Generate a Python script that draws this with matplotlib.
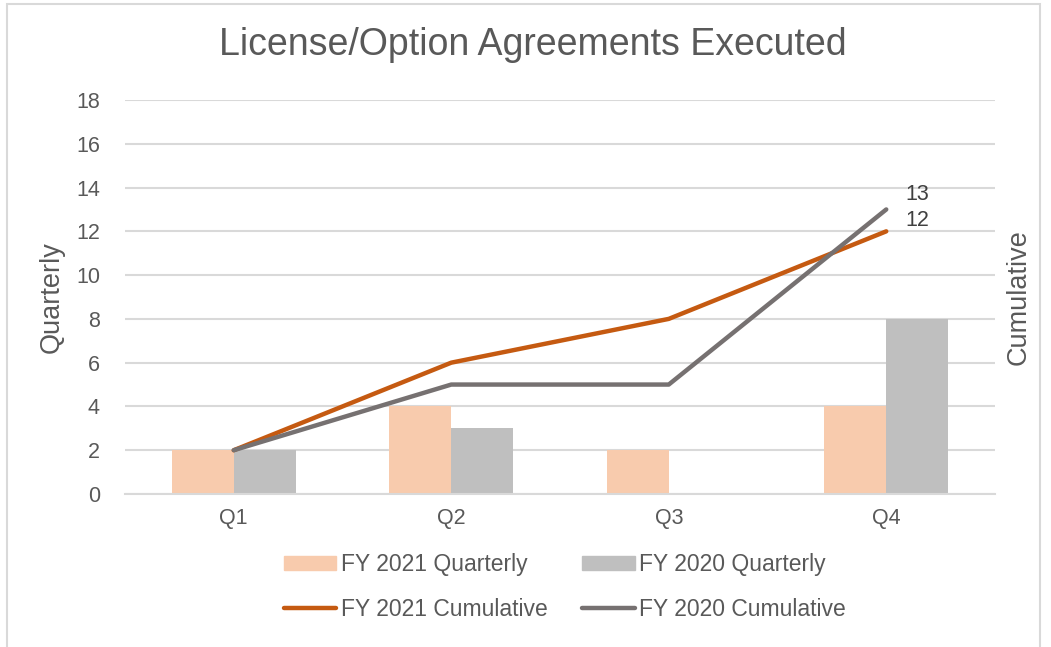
import matplotlib
matplotlib.use("Agg")
import matplotlib.pyplot as plt
from matplotlib.patches import Rectangle
from matplotlib.lines import Line2D
import numpy as np

plt.rcParams['font.family'] = ['Liberation Sans', 'DejaVu Sans']

categories = ["Q1", "Q2", "Q3", "Q4"]
fy2021_quarterly = [2, 4, 2, 4]
fy2020_quarterly = [2, 3, 0, 8]
fy2021_cumulative = [2, 6, 8, 12]
fy2020_cumulative = [2, 5, 5, 13]
yticks = [0, 2, 4, 6, 8, 10, 12, 14, 16, 18]

TXT = "#595959"
GRID = "#D9D9D9"
C_OR_BAR = "#F8CBAD"
C_GR_BAR = "#BFBFBF"
C_OR_LINE = "#C55A11"
C_GR_LINE = "#767171"

W, H = 1051, 647
fig = plt.figure(figsize=(W / 100, H / 100), dpi=100)
ax = fig.add_axes([125 / W, 1 - 494 / H, 870 / W, 394 / H])

x = np.arange(len(categories))
bw = 0.285
ax.bar(x - bw / 2, fy2021_quarterly, bw, color=C_OR_BAR, zorder=2, label="FY 2021 Quarterly")
ax.bar(x + bw / 2, fy2020_quarterly, bw, color=C_GR_BAR, zorder=2, label="FY 2020 Quarterly")

ax.set_xlim(-0.5, len(categories) - 0.5)
ax.set_ylim(0, 18)
ax.set_yticks(yticks)
ax.set_xticks(x)
ax.set_xticklabels(categories)
ax.tick_params(axis='both', length=0, labelsize=15.5, colors=TXT)
ax.tick_params(axis='y', pad=18)
ax.tick_params(axis='x', pad=10)
ax.grid(axis='y', color=GRID, linewidth=1.5, zorder=0)
ax.set_axisbelow(True)
for s in ['top', 'right', 'left']:
    ax.spines[s].set_visible(False)
ax.spines['bottom'].set_color(GRID)
ax.spines['bottom'].set_linewidth(1.5)
ax.set_ylabel("Quarterly", fontsize=19.5, color=TXT, labelpad=8)

ax2 = ax.twinx()
ax2.set_ylim(0, 18)
ax2.set_yticks([])
for s in ax2.spines.values():
    s.set_visible(False)
ax2.plot(x, fy2021_cumulative, color=C_OR_LINE, linewidth=3.2, solid_capstyle='round', zorder=3)
ax2.plot(x, fy2020_cumulative, color=C_GR_LINE, linewidth=3.2, solid_capstyle='round', zorder=3)
ax2.set_ylabel("Cumulative", fontsize=19.5, color=TXT, labelpad=8, rotation=90)

ax2.annotate(str(fy2020_cumulative[-1]), (x[-1], fy2020_cumulative[-1]), xytext=(14, 3),
             textcoords='offset points', fontsize=15.5, color="#404040", va='bottom', ha='left')
ax2.annotate(str(fy2021_cumulative[-1]), (x[-1], fy2021_cumulative[-1]), xytext=(14, 0),
             textcoords='offset points', fontsize=15.5, color="#404040", va='bottom', ha='left')

fig.text(533 / W, 1 - 45 / H, "License/Option Agreements Executed", ha='center', va='center',
         fontsize=27, color=TXT)

handles = [
    Rectangle((0, 0), 1, 1, color=C_OR_BAR),
    Line2D([0], [0], color=C_OR_LINE, linewidth=3.2, solid_capstyle='round'),
    Rectangle((0, 0), 1, 1, color=C_GR_BAR),
    Line2D([0], [0], color=C_GR_LINE, linewidth=3.2, solid_capstyle='round'),
]
labels = ["FY 2021 Quarterly", "FY 2021 Cumulative", "FY 2020 Quarterly", "FY 2020 Cumulative"]
leg = fig.legend(handles, labels, ncol=2, loc='center', bbox_to_anchor=(565 / W, 1 - 587 / H),
                 frameon=False, fontsize=16.5, labelcolor=TXT, handlelength=2.3, handleheight=0.55,
                 handletextpad=0.2, columnspacing=1.5, labelspacing=0.95)

fig.patches.append(Rectangle((7 / W, -0.1), (1040 - 7) / W, 1.1 - 4 / H, transform=fig.transFigure,
                             fill=False, edgecolor=GRID, linewidth=1.5))

fig.savefig("out.png", dpi=100)
